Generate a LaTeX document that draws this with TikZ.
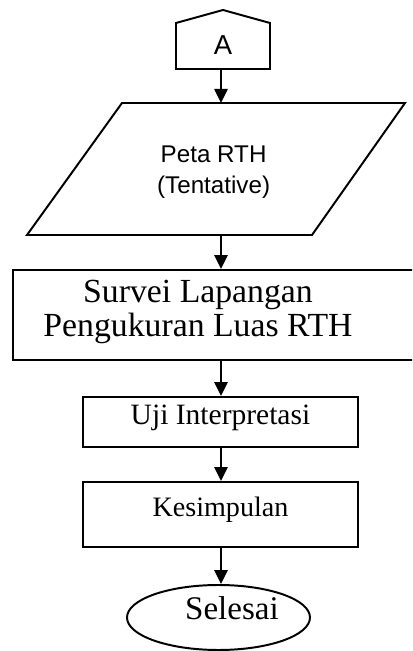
\documentclass[tikz,border=0pt]{standalone}
\usepackage{fontspec}
\setmainfont{Liberation Serif}
\newfontfamily\arialfont{Liberation Sans}
\usetikzlibrary{arrows.meta,shapes.geometric}
\tikzset{>={Triangle[length=3.5mm,width=3.3mm]}}
\tikzset{kotak/.style={draw, rectangle, minimum width=6.875cm}}

\begin{document}
\begin{tikzpicture}[line width=1.4pt]
    \clip (0,0) rectangle (10.3,16.275);
    \coordinate (A) at (5.525,14.55);
    \coordinate (P1) at (5.525,13.7);
    \coordinate (P2) at (5.525,10.4);
    \draw (4.4,14.55) -- (4.4,15.7) -- (5.575,16.025) -- (6.75,15.7) -- (6.75,14.55) -- cycle;
    \node (hurufA) at (5.575,15.15) [font=\arialfont\fontsize{19.5}{23}\selectfont] {A};
    \draw (0.675,10.4) -- (3.05,13.7) -- (10.125,13.7) -- (7.8,10.4) -- cycle;
    \node (peta) at (5.34,11.975) [align=center, font=\arialfont\fontsize{17.2}{22}\selectfont] {Peta RTH\\(Tentative)};
    \node (survei) at (5.5,8.4) [kotak, minimum width=10.35cm, minimum height=2.25cm] {};
    \node (surveiteks) at (4.95,8.48) [align=center, font=\fontsize{24}{24.2}\selectfont] {Survei Lapangan\\Pengukuran Luas RTH};
    \node (uji) at (5.5125,5.725) [kotak, minimum height=1.25cm, font=\fontsize{21}{25}\selectfont, text height=15pt, text depth=11.5pt] {Uji Interpretasi};
    \node (kesimpulan) at (5.5125,3.4125) [kotak, minimum height=1.625cm, font=\fontsize{20}{24}\selectfont, text height=14pt, text depth=10.5pt] {Kesimpulan};
    \node (selesai) at (5.4625,0.8375) [draw, ellipse, minimum width=4.575cm, minimum height=1.625cm] {};
    \node (selesaiteks) at (5.8,1.07) [font=\fontsize{23.5}{28}\selectfont] {Selesai};
    \draw [->] (A) -- (P1);
    \draw [->] (P2) -- (P2 |- survei.north);
    \draw [->] (P2 |- survei.south) -- (P2 |- uji.north);
    \draw [->] (P2 |- uji.south) -- (P2 |- kesimpulan.north);
    \draw [->] (P2 |- kesimpulan.south) -- (P2 |- selesai.north);
\end{tikzpicture}
\end{document}
